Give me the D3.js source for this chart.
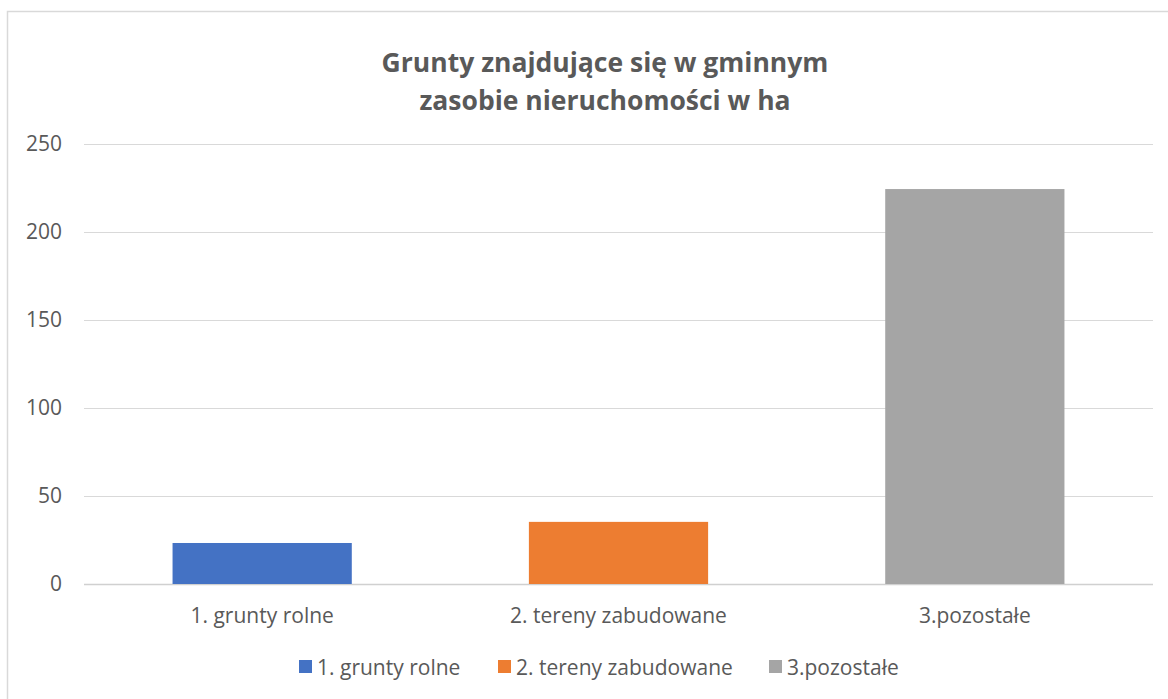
<!DOCTYPE html>
<html><head><meta charset="utf-8">
<script src="https://cdn.jsdelivr.net/npm/d3@7"></script>
<style>body{margin:0;background:#fff;}svg{display:block;font-family:"Open Sans",sans-serif;}</style>
</head><body>
<svg id="c" width="1168" height="699"></svg>
<script>
const categories = ["1. grunty rolne", "2. tereny zabudowane", "3.pozostałe"];
const values = [23.3, 35.3, 224.4];
const colors = ["#4472C4", "#ED7D31", "#A5A5A5"];
const yTicks = [0, 50, 100, 150, 200, 250];
const titleLines = ["Grunty znajdujące się w gminnym", "zasobie nieruchomości w ha"];

const svg = d3.select("#c");
svg.append("path").attr("d","M7.5,699 V11.5 H1168").attr("fill","none").attr("stroke","#d9d9d9").attr("stroke-width",1.5);

const m = {left:84, right:1153, top:144, bottom:584};
const x = d3.scaleBand().domain(categories).range([m.left, m.right]).padding(0);
const y = d3.scaleLinear().domain([0,250]).range([m.bottom, m.top]);

svg.append("g").selectAll("line").data(yTicks).join("line")
  .attr("x1", m.left).attr("x2", m.right)
  .attr("y1", d=>y(d)+0.5).attr("y2", d=>y(d)+0.5)
  .attr("stroke", d=> d===0 ? "#d0d0d0" : "#d9d9d9").attr("stroke-width", d=> d===0?1.5:1);

const yAxis = d3.axisLeft(y).tickValues(yTicks).tickSize(0).tickPadding(0);
const ga = svg.append("g").attr("transform", `translate(${m.left-22},0)`).call(yAxis);
ga.select(".domain").remove();
ga.selectAll("text").attr("fill","#595959").style("font-size","21px").style("font-family","'Open Sans', sans-serif");

const bw = x.bandwidth()*0.503;
svg.append("g").selectAll("rect").data(values).join("rect")
  .attr("x", (d,i)=> x(categories[i]) + x.bandwidth()/2 - bw/2)
  .attr("width", bw)
  .attr("y", d=>y(d)).attr("height", d=> y(0)-y(d))
  .attr("fill", (d,i)=>colors[i]);

const xAxis = d3.axisBottom(x).tickSize(0).tickPadding(0);
const gx = svg.append("g").attr("transform", `translate(0,${m.bottom+32})`).call(xAxis);
gx.select(".domain").remove();
gx.selectAll("text").attr("fill","#595959").style("font-size","21px").style("font-family","'Open Sans', sans-serif").attr("dy","0.35em");

svg.append("g").selectAll("text").data(titleLines).join("text")
  .attr("x", 605).attr("y", (d,i)=> 72 + i*38)
  .attr("text-anchor","middle").attr("fill","#595959")
  .style("font-size","26.5px").style("font-weight","bold").text(d=>d);

const legendX = [299, 498, 769];
const lg = svg.append("g").selectAll("g").data(categories).join("g")
  .attr("transform", (d,i)=>`translate(${legendX[i]},660)`);
lg.append("rect").attr("width",13).attr("height",13).attr("fill",(d,i)=>colors[i]);
lg.append("text").attr("x",18).attr("y",14.5).attr("fill","#595959").style("font-size","21px").text(d=>d);
</script>
</body></html>
